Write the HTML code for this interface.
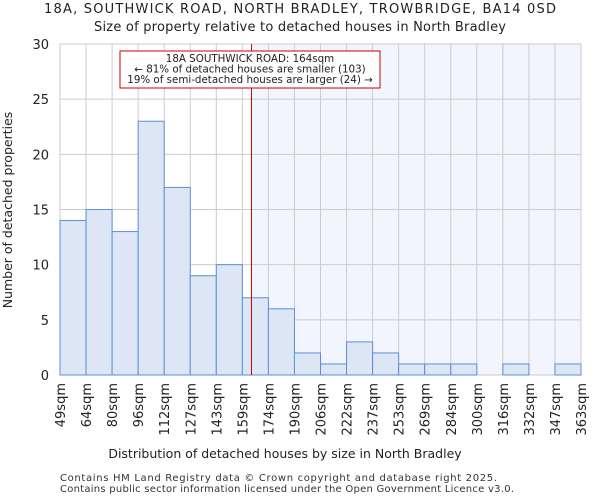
<!DOCTYPE html>
<html><head><meta charset="utf-8"><style>
body{margin:0;background:#fff;font-family:"DejaVu Sans","Liberation Sans",sans-serif}
</style></head><body>
<svg id="c" width="600" height="500" xmlns="http://www.w3.org/2000/svg" font-family="DejaVu Sans, Liberation Sans, sans-serif">
<text x="44" y="13" font-size="13" fill="#222" textLength="512" lengthAdjust="spacing">18A, SOUTHWICK ROAD, NORTH BRADLEY, TROWBRIDGE, BA14 0SD</text>
<text x="94" y="31" font-size="13" fill="#222" textLength="412" lengthAdjust="spacing">Size of property relative to detached houses in North Bradley</text>
<g id="g"></g>
<text x="285" y="458" text-anchor="middle" font-size="12.5" fill="#222">Distribution of detached houses by size in North Bradley</text>
<text transform="translate(12,210) rotate(-90)" text-anchor="middle" font-size="12.5" fill="#222">Number of detached properties</text>
<text x="60" y="481" font-size="10" fill="#333" textLength="437" lengthAdjust="spacing">Contains HM Land Registry data © Crown copyright and database right 2025.</text>
<text x="60" y="492" font-size="10" fill="#333" textLength="454" lengthAdjust="spacing">Contains public sector information licensed under the Open Government Licence v3.0.</text>
</svg>
<script>
const categories=["49sqm","64sqm","80sqm","96sqm","112sqm","127sqm","143sqm","159sqm","174sqm","190sqm","206sqm","222sqm","237sqm","253sqm","269sqm","284sqm","300sqm","316sqm","332sqm","347sqm","363sqm"];
const counts=[14,15,13,23,17,9,10,7,6,2,1,3,2,1,1,1,0,1,0,1];
const yTicks=[0,5,10,15,20,25,30];
const propertyBin=7.35;
const NS="http://www.w3.org/2000/svg";
const g=document.getElementById('g');
const X0=60,X1=581,Y0=375,Y1=44,n=counts.length;
const xs=i=>X0+(X1-X0)*i/n;
const ys=v=>Y0-(Y0-Y1)*v/30;
function mk(t,a){const e=document.createElementNS(NS,t);for(const k in a)e.setAttribute(k,a[k]);g.appendChild(e);return e;}
let e;
e=mk('rect',{x:xs(propertyBin),y:Y1,width:X1-xs(propertyBin),height:Y0-Y1,fill:'#f2f5fd'});


for(let i=0;i<=n;i++){e=mk('line',{x1:xs(i),x2:xs(i),y1:Y1,y2:Y0,stroke:'#ccc','stroke-width':1});

}
yTicks.forEach(t=>{e=mk('line',{x1:X0,x2:X1,y1:ys(t),y2:ys(t),stroke:'#ccc','stroke-width':1});


e=mk('text',{x:49,y:ys(t)+5,'text-anchor':'end','font-size':13,fill:'#222'});e.textContent=t;

});
counts.forEach((v,i)=>{if(v<=0)return;e=mk('rect',{x:xs(i),y:ys(v),width:xs(1)-xs(0),height:Y0-ys(v),fill:'#dce6f5',stroke:'#5b8fd6','stroke-width':1});

});
categories.forEach((c,i)=>{e=mk('text',{transform:`translate(${xs(i)+5},383) rotate(-90)`,'text-anchor':'end','font-size':13,fill:'#222'});e.textContent=c;

});
e=mk('line',{x1:xs(propertyBin),x2:xs(propertyBin),y1:Y1,y2:Y0,stroke:'#c00','stroke-width':1});


e=mk('rect',{x:120,y:51,width:260,height:37,fill:'#fff',stroke:'#c00','stroke-width':1});


["18A SOUTHWICK ROAD: 164sqm","← 81% of detached houses are smaller (103)","19% of semi-detached houses are larger (24) →"].forEach((s,k)=>{e=mk('text',{x:250,y:62+k*10.5,'text-anchor':'middle','font-size':10.3,fill:'#222'});e.textContent=s;

});
</script>
</body></html>
